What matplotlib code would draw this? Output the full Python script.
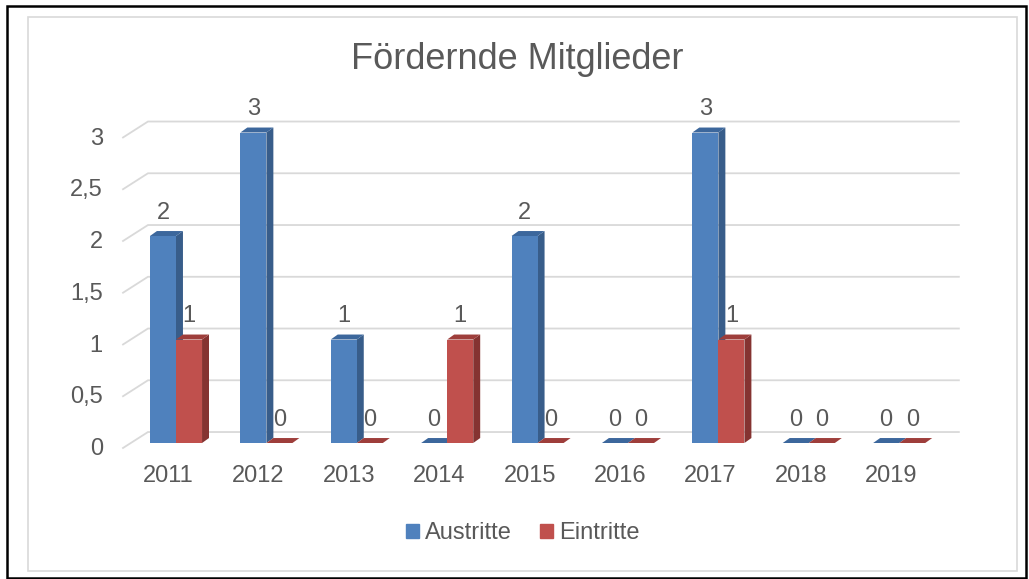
import matplotlib
matplotlib.use("Agg")
import matplotlib.pyplot as plt
from matplotlib.patches import Polygon, Rectangle
import numpy as np

plt.rcParams['font.family'] = ['Liberation Sans', 'DejaVu Sans']

# data
years = ['2011', '2012', '2013', '2014', '2015', '2016', '2017', '2018', '2019']
austritte = [2, 3, 1, 0, 2, 0, 3, 0, 0]
eintritte = [1, 0, 0, 1, 0, 0, 1, 0, 0]
y_ticks = [0, 0.5, 1, 1.5, 2, 2.5, 3]
y_tick_labels = ['0', '0,5', '1', '1,5', '2', '2,5', '3']
series_names = ['Austritte', 'Eintritte']

# colours: front, side, top
blue = ('#4F81BD', '#385D8A', '#3C679C')
red = ('#C0504D', '#853331', '#9E3E3B')
text_col = '#595959'
grid_col = '#D9D9D9'

W, H = 1029, 579
fig = plt.figure(figsize=(W / 100, H / 100), dpi=100)

# axes box in pixels
ax_l, ax_r, ax_t, ax_b = 100, 1000, 90, 500
ax = fig.add_axes([ax_l / W, 1 - ax_b / H, (ax_r - ax_l) / W, (ax_b - ax_t) / H])
x0_px, step_px = 176, 90.4
y0_px, unit_px = 443, 103.5
ax.set_xlim((ax_l - x0_px) / step_px, (ax_r - x0_px) / step_px)
ax.set_ylim((y0_px - ax_b) / unit_px, (y0_px - ax_t) / unit_px)
ax.axis('off')

# 3d look parameters (data units)
w = 0.288
ddx, ddy = 0.077, 0.048
g_front, g_back = -0.048, 0.106
gx_start, gx_corner, gx_end = -0.586, -0.31, 8.66

# gridlines (left wall slant + back wall)
for v in y_ticks:
    ax.plot([gx_start, gx_corner, gx_end], [v + g_front, v + g_back, v + g_back],
            color=grid_col, lw=1.3, zorder=1, solid_joinstyle='miter')

x = np.arange(len(years))


def draw_bar(xl, v, cols):
    xr = xl + w
    ax.add_patch(Polygon([(xr, 0), (xr + ddx, ddy), (xr + ddx, v + ddy), (xr, v)],
                         closed=True, facecolor=cols[1], edgecolor='none', zorder=3))
    ax.add_patch(Polygon([(xl, v), (xr, v), (xr + ddx, v + ddy), (xl + ddx, v + ddy)],
                         closed=True, facecolor=cols[2], edgecolor='none', zorder=3))
    ax.bar(xl, v, width=w, align='edge', color=cols[0], zorder=3)
    ax.text(xl + w / 2, v + 0.227, str(v), ha='center', va='center',
            fontsize=17, color=text_col, zorder=5)


for i in x:
    draw_bar(i - w, austritte[i], blue)
    draw_bar(i, eintritte[i], red)
    ax.text(i - 0.088, -0.319, years[i], ha='center', va='center',
            fontsize=17, color=text_col)

for v, lab in zip(y_ticks, y_tick_labels):
    ax.text(-0.81, v - 0.06, lab, ha='right', va='center', fontsize=17, color=text_col)

# title
fig.text(517.5 / W, 1 - 69 / H, 'Fördernde Mitglieder', ha='center', va='baseline',
         fontsize=26, color=text_col)

# legend
handles = [Rectangle((0, 0), 1, 1, color=blue[0]), Rectangle((0, 0), 1, 1, color=red[0])]
fig.legend(handles, series_names, loc='center', bbox_to_anchor=(523 / W, 1 - 533 / H),
           ncol=2, frameon=False, fontsize=17, labelcolor=text_col,
           handlelength=0.55, handleheight=0.55, handletextpad=0.25, columnspacing=1.2)

# frames
fig.add_artist(Rectangle((28 / W, 1 - 571 / H), (1017 - 28) / W, (571 - 17) / H,
                         transform=fig.transFigure, fill=False, edgecolor='#D9D9D9', lw=1.2))
fig.add_artist(Rectangle((7 / W, 1 - 578 / H), (1026 - 7) / W, (578 - 6) / H,
                         transform=fig.transFigure, fill=False, edgecolor='black', lw=1.8))

fig.savefig('out.png', dpi=100)
